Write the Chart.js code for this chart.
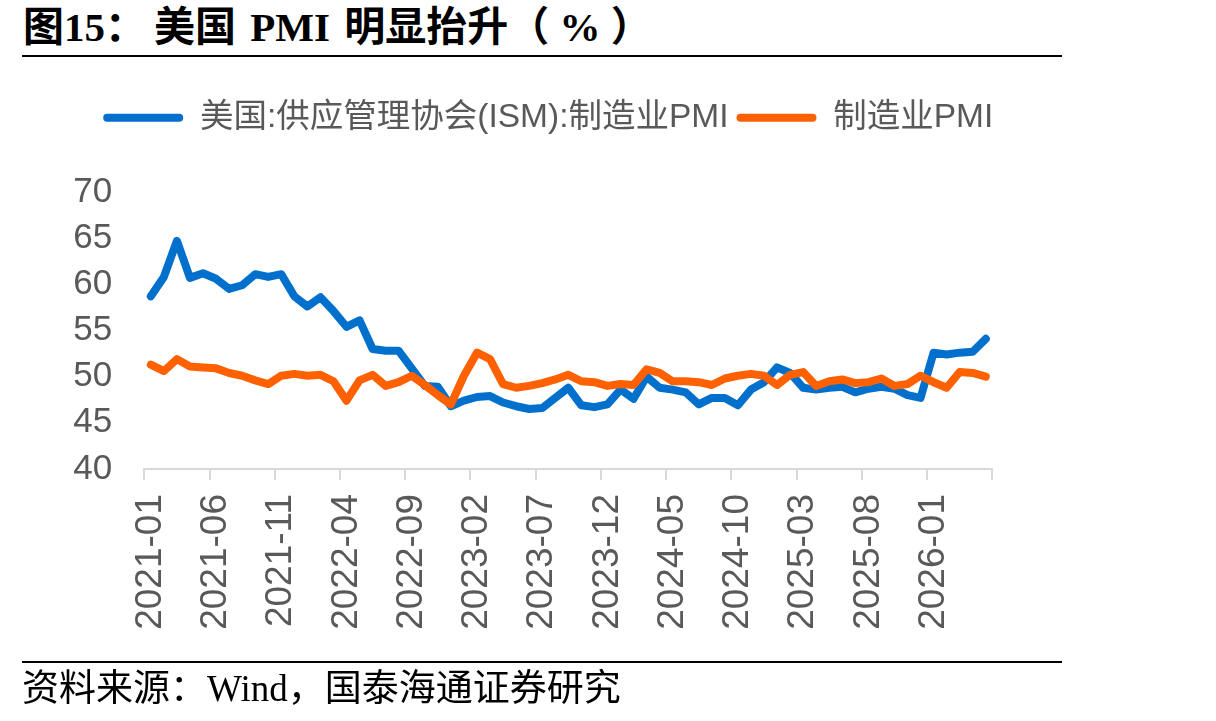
<!DOCTYPE html>
<html>
<head>
<meta charset="utf-8">
<script src="https://cdn.jsdelivr.net/npm/chart.js@4.4.1/dist/chart.umd.min.js"></script>
<style>
  html, body { margin: 0; padding: 0; background: #ffffff; }
  #wrap { position: relative; width: 1216px; height: 721px; overflow: hidden; background: #fff; }
  #c { position: absolute; left: 0; top: 0; }
  .title { position: absolute; left: 23px; top: 7px; font-family: 'Liberation Serif', 'Noto Sans CJK SC', serif; font-weight: bold; font-size: 41px; line-height: 41px; color: #000; white-space: nowrap; }
  .title .rest { margin-left: 8px; word-spacing: 4px; }
  .title .pct { word-spacing: 0; }
  .rule { position: absolute; left: 22px; width: 1040px; height: 2px; background: #000; }
  .source { position: absolute; left: 22px; top: 670px; font-family: 'Liberation Serif', 'Noto Sans CJK SC', serif; font-size: 37px; line-height: 37px; color: #000; white-space: nowrap; }
</style>
</head>
<body>
<div id="wrap">
  <div class="title">图15：<span class="rest">美国 PMI 明显抬升<span class="pct">（ % ）</span></span></div>
  <div class="rule" style="top:55px"></div>
  <canvas id="c" width="1216" height="721"></canvas>
  <div class="rule" style="top:661px"></div>
  <div class="source">资料来源：Wind，国泰海通证券研究</div>
</div>
<script>
const months = [
  '2021-01','2021-02','2021-03','2021-04','2021-05','2021-06','2021-07','2021-08','2021-09','2021-10','2021-11','2021-12',
  '2022-01','2022-02','2022-03','2022-04','2022-05','2022-06','2022-07','2022-08','2022-09','2022-10','2022-11','2022-12',
  '2023-01','2023-02','2023-03','2023-04','2023-05','2023-06','2023-07','2023-08','2023-09','2023-10','2023-11','2023-12',
  '2024-01','2024-02','2024-03','2024-04','2024-05','2024-06','2024-07','2024-08','2024-09','2024-10','2024-11','2024-12',
  '2025-01','2025-02','2025-03','2025-04','2025-05','2025-06','2025-07','2025-08','2025-09','2025-10','2025-11','2025-12',
  '2026-01','2026-02','2026-03','2026-04','2026-05'
];
const ismPMI = [
  58.7, 60.8, 64.7, 60.7, 61.2, 60.6, 59.5, 59.9, 61.1, 60.8, 61.1, 58.7,
  57.6, 58.6, 57.1, 55.4, 56.1, 53.0, 52.8, 52.8, 50.9, 49.0, 48.9, 46.8,
  47.4, 47.8, 47.9, 47.2, 46.8, 46.5, 46.6, 47.7, 48.8, 46.9, 46.7, 47.0,
  48.6, 47.6, 50.0, 48.8, 48.6, 48.3, 47.0, 47.7, 47.7, 46.9, 48.6, 49.4,
  51.0, 50.4, 48.8, 48.6, 48.8, 48.9, 48.3, 48.7, 48.9, 48.7, 48.0, 47.7,
  52.6, 52.4, 52.6, 52.7, 54.1
];
const mfgPMI = [
  51.3, 50.6, 51.9, 51.1, 51.0, 50.9, 50.4, 50.1, 49.6, 49.2, 50.1, 50.3,
  50.1, 50.2, 49.5, 47.4, 49.6, 50.2, 49.0, 49.4, 50.1, 49.1, 48.0, 47.0,
  50.1, 52.6, 51.9, 49.2, 48.8, 49.0, 49.3, 49.7, 50.2, 49.5, 49.4, 49.0,
  49.2, 49.1, 50.8, 50.4, 49.5, 49.5, 49.4, 49.1, 49.8, 50.1, 50.3, 50.1,
  49.1, 50.2, 50.5, 49.0, 49.5, 49.7, 49.3, 49.4, 49.8, 49.0, 49.2, 50.1,
  49.4, 48.8, 50.5, 50.4, 50.0
];
const seriesNames = ['美国:供应管理协会(ISM):制造业PMI', '制造业PMI'];
const seriesColors = ['#0070CC', '#FF6100'];
const yTicks = [40, 45, 50, 55, 60, 65, 70];

function makeSpacer(position, size, weight) {
  const horiz = position === 'top' || position === 'bottom';
  return {
    position, weight, fullSize: horiz,
    options: {},
    left: 0, top: 0, right: 0, bottom: 0, width: 0, height: 0,
    isHorizontal() { return horiz; },
    update(maxWidth, maxHeight) {
      if (horiz) { this.width = maxWidth; this.height = size; }
      else { this.width = size; this.height = maxHeight; }
    },
    draw() {},
    _layers() { return [{ z: 0, draw() {} }]; }
  };
}
const spacer = {
  id: 'spacer',
  beforeInit(chart) {
    Chart.layouts.addBox(chart, makeSpacer('top', 47.5, 500));
    Chart.layouts.addBox(chart, makeSpacer('right', 11.2, 500));
  }
};

Chart.defaults.font.family = "'Liberation Sans', 'Noto Sans CJK SC', sans-serif";
Chart.defaults.color = '#595959';

new Chart(document.getElementById('c'), {
  type: 'line',
  data: {
    labels: months,
    datasets: [
      { label: seriesNames[0], data: ismPMI, borderColor: seriesColors[0], backgroundColor: seriesColors[0], order: 1 },
      { label: seriesNames[1], data: mfgPMI, borderColor: seriesColors[1], backgroundColor: seriesColors[1], order: 0 }
    ]
  },
  options: {
    responsive: false,
    animation: false,
    devicePixelRatio: 1,
    layout: { padding: { top: 93, left: 93, right: 212.5, bottom: 82 } },
    elements: {
      line: { borderWidth: 8, tension: 0, borderJoinStyle: 'round', borderCapStyle: 'round' },
      point: { radius: 0, hoverRadius: 0 }
    },
    plugins: {
      legend: {
        position: 'top',
        align: 'center',
        labels: {
          font: { size: 33.5 },
          color: '#595959',
          boxWidth: 80,
          boxHeight: 8,
          padding: 8,
          sort: (a, b) => a.datasetIndex - b.datasetIndex,
          generateLabels(chart) {
            const items = Chart.defaults.plugins.legend.labels.generateLabels(chart);
            items.forEach(it => { it.fillStyle = it.strokeStyle; it.lineWidth = 0; it.borderRadius = 4; });
            return items;
          }
        }
      },
      tooltip: { enabled: false }
    },
    scales: {
      x: {
        type: 'category',
        offset: true,
        afterFit(scale) { scale.height = 170; },
        grid: {
          offset: true,
          drawOnChartArea: false,
          drawTicks: true,
          tickLength: 11,
          lineWidth: 2,
          tickWidth: 2,
          tickColor: (ctx) => (ctx.index === undefined || ctx.index % 5 === 0) ? '#d9d9d9' : 'rgba(0,0,0,0)'
        },
        border: { display: true, color: '#d9d9d9', width: 2 },
        ticks: {
          autoSkip: false,
          minRotation: 90,
          maxRotation: 90,
          padding: 14,
          color: '#595959',
          font: { size: 37 },
          callback(value, index) { return index % 5 === 0 ? months[index] : ''; }
        }
      },
      y: {
        min: 40,
        max: 70,
        afterFit(scale) { scale.width = 51.3; scale._computeLabelArea = () => undefined; },
        afterBuildTicks(scale) { scale.ticks = yTicks.map(v => ({ value: v })); },
        grid: { display: false, drawTicks: false },
        border: { display: false },
        ticks: { autoSkip: false, padding: 32, color: '#595959', font: { size: 35 } }
      }
    }
  },
  plugins: [spacer]
});
</script>
</body>
</html>
